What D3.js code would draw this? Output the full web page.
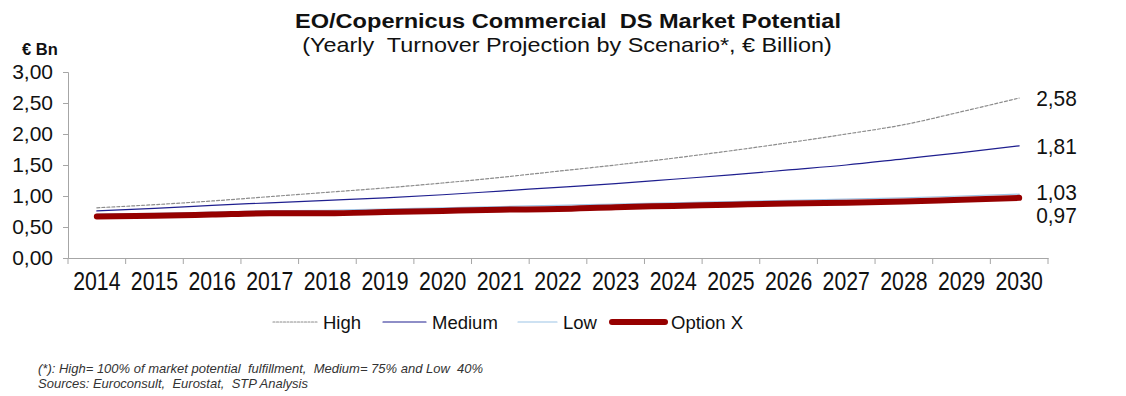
<!DOCTYPE html>
<html>
<head>
<meta charset="utf-8">
<script src="https://cdn.jsdelivr.net/npm/d3@7"></script>
<style>
  html, body { margin: 0; padding: 0; background: #fff; }
  svg { display: block; font-family: "Liberation Sans", Arial, sans-serif; }
  text { white-space: pre; }
</style>
</head>
<body>
<svg id="chart" width="1126" height="396"></svg>
<script>
// Yearly turnover projection (€ billion) per scenario
const years = ["2014","2015","2016","2017","2018","2019","2020","2021","2022","2023","2024","2025","2026","2027","2028","2029","2030"];
const high    = [0.81,0.86,0.92,0.99,1.06,1.13,1.21,1.30,1.40,1.50,1.61,1.73,1.86,2.00,2.15,2.36,2.58];
const medium  = [0.76,0.80,0.85,0.89,0.93,0.97,1.02,1.08,1.14,1.20,1.27,1.34,1.42,1.50,1.60,1.70,1.81];
const low     = [0.71,0.72,0.74,0.76,0.77,0.79,0.81,0.83,0.85,0.87,0.89,0.91,0.93,0.95,0.97,1.00,1.03];
const optionX = [0.67,0.68,0.70,0.72,0.72,0.74,0.76,0.78,0.79,0.82,0.84,0.86,0.88,0.89,0.91,0.94,0.97];
const yTicks  = [0, 0.5, 1, 1.5, 2, 2.5, 3];

const seriesNames = ["High", "Medium", "Low", "Option X"];
const seriesValues = [high, medium, low, optionX];
const seriesStyle = {
  "High":     { color: "#8c8c8c", width: 1.2, dash: "3,2" },
  "Medium":   { color: "#1f1f8f", width: 1.2, dash: null },
  "Low":      { color: "#9cc3e5", width: 1.2, dash: null },
  "Option X": { color: "#960000", width: 6,   dash: null }
};

const svg = d3.select("#chart");
const axisColor = "#a6a6a6";
const fmt = v => d3.format(".2f")(v).replace(".", ",");

const x = d3.scaleBand().domain(years).range([68, 1048]).padding(0);
const y = d3.scaleLinear().domain([0, 3]).range([258, 72]);
const cx = d => x(d) + x.bandwidth() / 2;

// Titles
svg.append("text").attr("transform", "translate(568,28) scale(1.15,1)").attr("text-anchor", "middle")
  .attr("font-size", 20.5).attr("font-weight", "bold").attr("fill", "#111")
  .text("EO/Copernicus Commercial  DS Market Potential");
svg.append("text").attr("transform", "translate(567,52) scale(1.17,1)").attr("text-anchor", "middle")
  .attr("font-size", 20).attr("fill", "#111")
  .text("(Yearly  Turnover Projection by Scenario*, € Billion)");
svg.append("text").attr("x", 22).attr("y", 55)
  .attr("font-size", 16.5).attr("font-weight", "bold").attr("fill", "#111")
  .text("€ Bn");

// Y axis
const yAxis = svg.append("g").attr("transform", "translate(68,0)")
  .call(d3.axisLeft(y).tickValues(yTicks).tickFormat(fmt).tickSize(5).tickPadding(10));
yAxis.select(".domain").attr("stroke", axisColor);
yAxis.selectAll(".tick line").attr("stroke", axisColor);
yAxis.selectAll(".tick text").attr("font-size", 21).attr("fill", "#111")
  .attr("font-family", "Liberation Sans, Arial, sans-serif");

// X axis: labels at band centres, tick marks at band boundaries
const xAxis = svg.append("g").attr("transform", "translate(0,258)")
  .call(d3.axisBottom(x).tickSize(0).tickPadding(14));
xAxis.select(".domain").attr("stroke", axisColor);
xAxis.selectAll(".tick text").attr("font-size", 25).attr("fill", "#111")
  .attr("font-family", "Liberation Sans, Arial, sans-serif")
  .attr("transform", "scale(0.85,1)");
const bounds = years.map(d => x(d)).concat([x.range()[1]]);
xAxis.selectAll(".bound").data(bounds).enter().append("line")
  .attr("class", "bound")
  .attr("x1", d => d).attr("x2", d => d).attr("y1", 0).attr("y2", 6)
  .attr("stroke", axisColor);

// Lines
const line = d3.line().x((d, i) => cx(years[i])).y(d => y(d)).curve(d3.curveMonotoneX);
seriesNames.forEach((name, k) => {
  const s = seriesStyle[name];
  svg.append("path").datum(seriesValues[k])
    .attr("fill", "none").attr("stroke", s.color).attr("stroke-width", s.width)
    .attr("stroke-dasharray", s.dash).attr("stroke-linecap", "round")
    .attr("d", line);
});

// End-of-line value labels
const endLabels = [
  { v: high[high.length - 1], dy: 0 },
  { v: medium[medium.length - 1], dy: 0 },
  { v: low[low.length - 1], dy: -2 },
  { v: optionX[optionX.length - 1], dy: 17 }
];
const lastX = cx(years[years.length - 1]);
endLabels.forEach(l => {
  svg.append("text")
    .attr("transform", `translate(${lastX + 17},${y(l.v) + l.dy + 8}) scale(0.95,1)`)
    .attr("font-size", 22).attr("fill", "#111")
    .text(fmt(l.v));
});

// Legend
const legendItems = [
  { name: "High",     x1: 273, x2: 317 },
  { name: "Medium",   x1: 383, x2: 426 },
  { name: "Low",      x1: 518, x2: 557 },
  { name: "Option X", x1: 612, x2: 665 }
];
const legend = svg.append("g").attr("transform", "translate(0,322)");
legendItems.forEach(it => {
  const s = seriesStyle[it.name];
  legend.append("line").attr("x1", it.x1).attr("x2", it.x2).attr("y1", 0).attr("y2", 0)
    .attr("stroke", s.color).attr("stroke-width", s.width)
    .attr("stroke-dasharray", s.dash ? "2,1.5" : null)
    .attr("stroke-linecap", "round");
  legend.append("text").attr("x", it.x2 + 6).attr("y", 6.5)
    .attr("font-size", 18.5).attr("fill", "#111").text(it.name);
});

// Footnotes
svg.append("text").attr("x", 38).attr("y", 373).attr("font-size", 13)
  .attr("font-style", "italic").attr("fill", "#333")
  .text("(*): High= 100% of market potential  fulfillment,  Medium= 75% and Low  40%");
svg.append("text").attr("x", 38).attr("y", 388).attr("font-size", 13)
  .attr("font-style", "italic").attr("fill", "#333")
  .text("Sources: Euroconsult,  Eurostat,  STP Analysis");
</script>
</body>
</html>
